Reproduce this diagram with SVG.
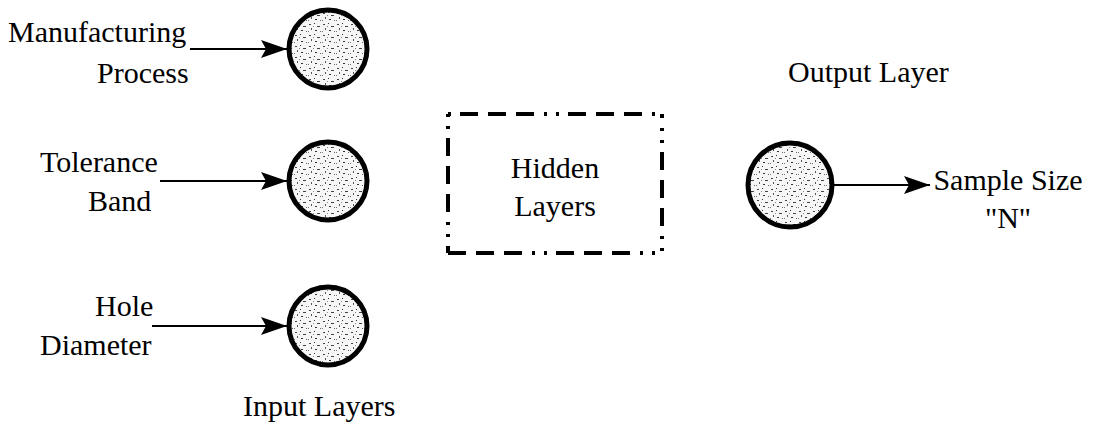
<svg xmlns="http://www.w3.org/2000/svg" width="1094" height="430" viewBox="0 0 1094 430">
  <style>
    .lbl { font-family: "Liberation Serif", "Times New Roman", serif; font-size: 30px; fill: #000; }
    .mid { text-anchor: middle; }
    .neuron { fill: url(#speckle); stroke: #000; stroke-width: 5; }
    .wire { stroke: #000; stroke-width: 2; fill: none; marker-end: url(#head); }
    .edge { fill: none; stroke: #000; stroke-width: 4; stroke-dasharray: 18 10 18 10 18 10 3 9 3 9; }
  </style>
  <defs>
    <!-- stippled neuron fill -->
    <pattern id="speckle" width="14" height="11" patternUnits="userSpaceOnUse">
      <rect width="14" height="11" fill="#f6f6f6"/>
      <rect x="1" y="2" width="2" height="1" fill="#444"/>
      <rect x="6" y="1" width="1" height="1" fill="#333"/>
      <rect x="9" y="4" width="3" height="1" fill="#444"/>
      <rect x="3" y="6" width="1" height="2" fill="#555"/>
      <rect x="7" y="8" width="2" height="1" fill="#333"/>
      <rect x="12" y="9" width="1" height="1" fill="#666"/>
      <rect x="0" y="9" width="1" height="1" fill="#777"/>
      <rect x="5" y="4" width="1" height="1" fill="#888"/>
    </pattern>
    <marker id="head" viewBox="0 0 26 18" refX="26" refY="9" markerWidth="26" markerHeight="18" markerUnits="userSpaceOnUse" orient="auto">
      <path d="M0,0 L26,9 L0,18 L5,9 Z" fill="#000"/>
    </marker>
  </defs>

  <!-- input neurons -->
  <g id="in-manufacturing">
    <circle class="neuron" cx="328" cy="49" r="39"/>
    <text class="lbl" x="8" y="42">Manufacturing</text>
    <text class="lbl" x="97" y="83">Process</text>
  </g>
  <g id="in-tolerance">
    <circle class="neuron" cx="328" cy="181" r="39"/>
    <text class="lbl" x="40" y="172">Tolerance</text>
    <text class="lbl" x="88" y="211">Band</text>
  </g>
  <g id="in-hole">
    <circle class="neuron" cx="328" cy="326" r="39"/>
    <text class="lbl" x="95" y="316">Hole</text>
    <text class="lbl" x="40" y="355">Diameter</text>
  </g>
  <g id="input-caption">
    <text class="lbl" x="243" y="416">Input Layers</text>
  </g>

  <!-- hidden layers block: dash-dot border, each side phased from its corner -->
  <g id="hidden">
    <line class="edge" x1="448" y1="114" x2="662" y2="114" stroke-dashoffset="96"/>
    <line class="edge" x1="448" y1="114" x2="448" y2="253" stroke-dashoffset="84"/>
    <line class="edge" x1="662" y1="114" x2="662" y2="253" stroke-dashoffset="70"/>
    <line class="edge" x1="448" y1="253" x2="662" y2="253" stroke-dashoffset="0"/>
    <text class="lbl mid" x="555" y="178">Hidden</text>
    <text class="lbl mid" x="555" y="216">Layers</text>
  </g>

  <!-- output neuron -->
  <g id="output">
    <circle class="neuron" cx="790" cy="185" r="42"/>
    <text class="lbl" x="788" y="82">Output Layer</text>
  </g>
  <g id="out-label">
    <text class="lbl mid" x="1008" y="190">Sample Size</text>
    <text class="lbl mid" x="1008" y="228">"N"</text>
  </g>

  <!-- connectors -->
  <g id="connectors">
    <line class="wire" x1="190" y1="49" x2="287" y2="49"/>
    <line class="wire" x1="160" y1="181" x2="287" y2="181"/>
    <line class="wire" x1="152" y1="326" x2="287" y2="326"/>
    <line class="wire" x1="834" y1="185" x2="930" y2="185"/>
  </g>
</svg>
